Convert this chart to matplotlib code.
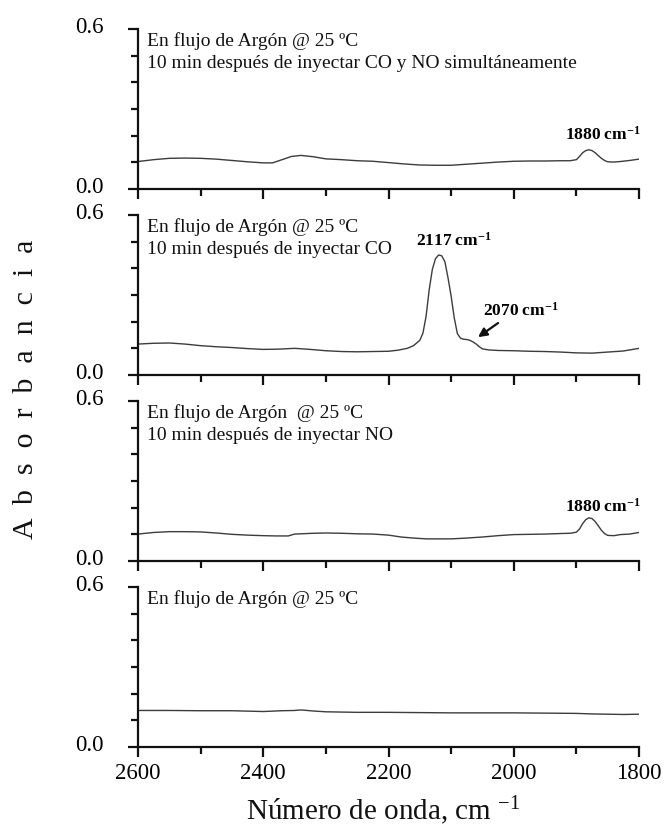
import matplotlib
matplotlib.use("Agg")
import matplotlib.pyplot as plt
import matplotlib.transforms as mtransforms
from matplotlib.ticker import MultipleLocator, FixedLocator

plt.rcParams["font.family"] = ["Liberation Serif", "DejaVu Serif"]
plt.rcParams["mathtext.fontset"] = "custom"
plt.rcParams["mathtext.rm"] = "Liberation Serif"
plt.rcParams["mathtext.bf"] = "Liberation Serif:bold"
plt.rcParams["mathtext.it"] = "Liberation Serif:italic"

# Spectra, top panel to bottom panel (wavenumber in cm-1, absorbance)
wn_co_no = [2600, 2575, 2550, 2525, 2500, 2475, 2450, 2425, 2400, 2385, 2370, 2355,
            2340, 2320, 2300, 2275, 2250, 2225, 2200, 2175, 2150, 2125, 2100, 2075,
            2050, 2025, 2000, 1975, 1950, 1925, 1910, 1900, 1895, 1890, 1885, 1880,
            1875, 1870, 1865, 1860, 1855, 1850, 1840, 1830, 1815, 1800]
abs_co_no = [0.103, 0.110, 0.115, 0.116, 0.115, 0.112, 0.107, 0.102, 0.098, 0.098, 0.110, 0.122,
             0.126, 0.121, 0.113, 0.110, 0.106, 0.104, 0.099, 0.094, 0.090, 0.089, 0.089, 0.093,
             0.097, 0.101, 0.104, 0.105, 0.105, 0.106, 0.106, 0.110, 0.122, 0.136, 0.144, 0.147,
             0.144, 0.136, 0.125, 0.115, 0.107, 0.102, 0.101, 0.103, 0.107, 0.112]

wn_co = [2600, 2575, 2550, 2525, 2500, 2475, 2450, 2425, 2400, 2375, 2350, 2325, 2300,
         2275, 2250, 2225, 2200, 2185, 2170, 2160, 2150, 2145, 2140, 2135, 2130, 2125,
         2120, 2115, 2110, 2105, 2100, 2095, 2090, 2085, 2080, 2075, 2070, 2065, 2060,
         2055, 2050, 2040, 2025, 2000, 1975, 1950, 1925, 1900, 1875, 1850, 1825, 1800]
abs_co = [0.116, 0.119, 0.120, 0.116, 0.110, 0.106, 0.103, 0.099, 0.096, 0.097, 0.100, 0.096, 0.091,
          0.088, 0.087, 0.088, 0.089, 0.093, 0.100, 0.110, 0.130, 0.157, 0.220, 0.320, 0.396, 0.436,
          0.450, 0.447, 0.425, 0.365, 0.296, 0.214, 0.155, 0.138, 0.134, 0.133, 0.130, 0.124, 0.116,
          0.106, 0.098, 0.094, 0.092, 0.091, 0.089, 0.088, 0.086, 0.083, 0.082, 0.086, 0.090, 0.100]

wn_no = [2600, 2575, 2550, 2525, 2500, 2475, 2450, 2425, 2400, 2380, 2360, 2350, 2340,
         2320, 2300, 2275, 2250, 2225, 2200, 2180, 2160, 2140, 2120, 2100, 2075, 2050,
         2025, 2000, 1975, 1950, 1925, 1910, 1900, 1895, 1890, 1885, 1880, 1875, 1870,
         1865, 1860, 1855, 1850, 1840, 1830, 1815, 1800]
abs_no = [0.101, 0.107, 0.110, 0.110, 0.109, 0.105, 0.100, 0.097, 0.095, 0.094, 0.094, 0.101, 0.102,
          0.104, 0.105, 0.104, 0.102, 0.101, 0.097, 0.090, 0.086, 0.083, 0.083, 0.083, 0.086, 0.090,
          0.095, 0.099, 0.100, 0.101, 0.103, 0.104, 0.108, 0.120, 0.140, 0.155, 0.162, 0.159, 0.148,
          0.132, 0.115, 0.103, 0.096, 0.095, 0.099, 0.101, 0.107]

wn_ar = [2600, 2550, 2500, 2450, 2400, 2370, 2350, 2340, 2320, 2300, 2250, 2200, 2150,
         2100, 2050, 2000, 1950, 1900, 1875, 1850, 1825, 1800]
abs_ar = [0.137, 0.137, 0.136, 0.136, 0.133, 0.136, 0.137, 0.139, 0.135, 0.132, 0.130, 0.130, 0.129,
          0.128, 0.128, 0.128, 0.127, 0.126, 0.124, 0.123, 0.122, 0.123]

panel_notes = [
    ["En flujo de Argón @ 25 ºC", "10 min después de inyectar CO y NO simultáneamente"],
    ["En flujo de Argón @ 25 ºC", "10 min después de inyectar CO"],
    ["En flujo de Argón  @ 25 ºC", "10 min después de inyectar NO"],
    ["En flujo de Argón @ 25 ºC"],
]
spectra = [(wn_co_no, abs_co_no), (wn_co, abs_co), (wn_no, abs_no), (wn_ar, abs_ar)]

x_ticks = [2600, 2400, 2200, 2000, 1800]
y_ticks = [0.0, 0.6]

W, H = 666, 827
fig = plt.figure(figsize=(W / 100, H / 100), dpi=100)

left = 138 / W
width = (639 - 138) / W
height = 160 / H
bottoms_px = [189, 375, 561, 747]

# y tick labels sit a few pixels above their ticks
lift = mtransforms.ScaledTranslation(0, 4 / 100, fig.dpi_scale_trans)

axes = []
for i, (wn, ab) in enumerate(spectra):
    ax = fig.add_axes([left, 1 - bottoms_px[i] / H, width, height])
    ax.plot(wn, ab, color="#3c3c3c", lw=1.0)
    ax.set_xlim(2600, 1800)
    ax.set_ylim(0, 0.6)
    ax.patch.set_alpha(0)
    for s in ("top", "right"):
        ax.spines[s].set_visible(False)
    for s in ("left", "bottom"):
        ax.spines[s].set_linewidth(1.6)
        ax.spines[s].set_color("#111111")

    ax.xaxis.set_major_locator(FixedLocator(x_ticks))
    ax.xaxis.set_minor_locator(MultipleLocator(100))
    ax.yaxis.set_major_locator(FixedLocator(y_ticks))
    ax.yaxis.set_minor_locator(MultipleLocator(0.1))
    ax.tick_params(which="major", direction="out", length=7.5, width=1.6, color="#111111")
    ax.tick_params(which="minor", direction="out", length=5, width=1.6, color="#111111")
    ax.tick_params(axis="y", which="major", labelsize=16.5, pad=17)
    ax.tick_params(axis="x", which="major", labelsize=16.5, pad=4)
    ax.set_yticklabels(["0.0", "0.6"])
    for lbl in ax.get_yticklabels():
        lbl.set_transform(lbl.get_transform() + lift)
    if i < 3:
        ax.tick_params(axis="x", labelbottom=False)

    notes = panel_notes[i]
    for j, line in enumerate(notes):
        ax.text(0.018, 0.925 - j * 0.14, line, transform=ax.transAxes,
                fontsize=14, ha="left", va="center", color="#111111")
    axes.append(ax)

# Peak labels
ax1, ax2, ax3, ax4 = axes
ax1.text(1858, 0.205, r"$\mathbf{1880\ cm^{-1}}$", fontsize=12.5, ha="center", va="center")
ax3.text(1858, 0.205, r"$\mathbf{1880\ cm^{-1}}$", fontsize=12.5, ha="center", va="center")
ax2.text(2095, 0.505, r"$\mathbf{2117\ cm^{-1}}$", fontsize=12.5, ha="center", va="center")
ax2.text(2049, 0.24, r"$\mathbf{2070\ cm^{-1}}$", fontsize=12.5, ha="left", va="center")
ax2.annotate("", xy=(2057, 0.142), xytext=(2025, 0.195),
             arrowprops=dict(arrowstyle="-|>", color="#111111", lw=1.6,
                             mutation_scale=13, shrinkA=0, shrinkB=0))

# Shared axis titles
fig.text(383 / W, 1 - 811 / H, r"Número de onda, cm $^{-1}$", fontsize=21,
         ha="center", va="center", color="#111111")
fig.text(26 / W, 1 - 389 / H, "A  b  s  o  r  b  a  n  c  i  a", fontsize=21.5,
         rotation=90, ha="center", va="center", color="#111111")

fig.savefig("out.png", dpi=100)
